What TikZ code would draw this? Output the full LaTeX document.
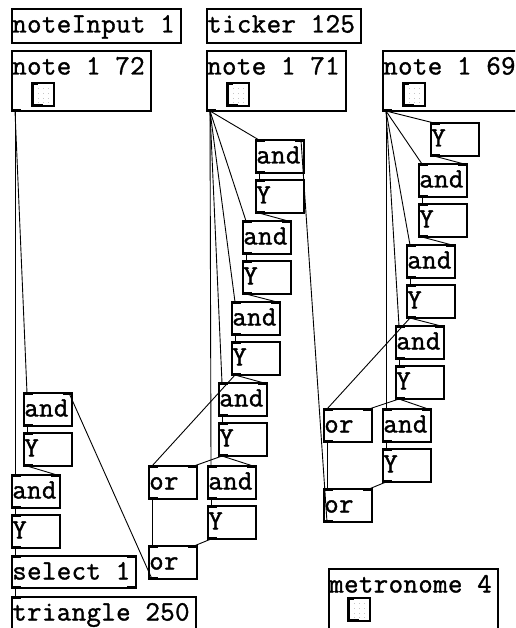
\documentclass[tikz,border=0pt]{standalone}
\usepackage{fontspec}
\newfontfamily\pdfont{Latin Modern Mono}[LetterSpace=1.5, FakeBold=1.3]
\tikzset{
  pdbox/.style={draw, line width=1.1pt, inner sep=0pt, outer sep=0pt},
  pdtxt/.style={font=\pdfont\fontsize{28}{29}\selectfont, inner sep=0pt, outer sep=0pt},
  port/.style={line width=2.6pt},
  wire/.style={line width=0.9pt},
}
% object box: name, x, y, width, height, text
\newcommand\pdobj[6]{%
  \node[pdbox, anchor=north west, minimum width=#4pt, minimum height=#5pt] (#1) at (#2,#3) {};
  \node[pdtxt, anchor=base west] (#1-t) at ([xshift=0.3pt,yshift=-23.5pt]#1.north west) {#6};
  \coordinate (#1-o) at ([xshift=3pt]#1.south west);
  \coordinate (#1-l) at ([xshift=3pt]#1.north west);
  \coordinate (#1-r) at ([xshift=-3pt]#1.north east);}
% inlet / outlet marks
\newcommand\pdinl[1]{\draw[port] ([yshift=-1pt]#1.north west) -- ++(9,0);}
\newcommand\pdinr[1]{\draw[port] ([yshift=-1pt]#1.north east) -- ++(-9,0);}
\newcommand\pdoutl[1]{\draw[port] ([yshift=1pt]#1.south west) -- ++(9,0);}
\newcommand\pdoutr[1]{\draw[port] ([yshift=1pt]#1.south east) -- ++(-9,0);}
% two-inlet, one-outlet object
\newcommand\pdgate[4]{\pdobj{#1}{#2}{#3}{48}{33}{#4}\pdinl{#1}\pdinr{#1}\pdoutl{#1}}
% delay cell
\newcommand\pdcell[3]{\pdobj{#1}{#2}{#3}{48}{33}{Y}\pdinl{#1}\pdoutl{#1}}
% toggle: name, x, y
\newcommand\pdtoggle[3]{%
  \node[pdbox, anchor=north west, minimum width=22pt, minimum height=23pt] (#1) at (#2,#3) {};
  \foreach \dx in {6,11,16} {\foreach \dy in {5,10,15,19} {
    \fill[gray!45] ([xshift=\dx pt,yshift=-\dy pt]#1.north west) rectangle ++(1,1);}}
  \draw[line width=2.4pt] ([xshift=1pt]#1.north west) -- ([xshift=1pt]#1.south west);
  \draw[line width=2.4pt] ([yshift=-1pt]#1.north west) -- ++(6,0);
  \draw[line width=2.4pt] ([yshift=1pt]#1.south west) -- ++(11,0);}

\begin{document}
\begin{tikzpicture}[x=1pt,y=-1pt]
\useasboundingbox (0,0) rectangle (515,628);
\clip (0,0) rectangle (515,628);
\fill[white] (0,0) rectangle (515,628);

% top row
\pdobj{input}{12}{9}{169}{34}{noteInput 1}
\pdobj{tick}{207}{9}{154}{34}{ticker 125}
\pdobj{nA}{12}{51}{139}{60}{note 1 72}\pdoutl{nA}\pdtoggle{nAt}{32}{83}
\pdobj{nB}{207}{51}{139}{60}{note 1 71}\pdoutl{nB}\pdtoggle{nBt}{227}{83}
\pdobj{nC}{383}{51}{150}{60}{note 1 69}\pdoutl{nC}\pdtoggle{nCt}{403}{83}

% left chain
\pdgate{aL1}{24}{393}{and}
\pdcell{yL1}{24}{433}
\pdgate{aL2}{12}{475}{and}
\pdcell{yL2}{12}{515}
\pdobj{sel}{12}{556}{124}{32}{select 1}\pdinl{sel}\pdinr{sel}\pdoutl{sel}\pdoutr{sel}
\pdobj{tri}{12}{597}{184}{45}{triangle 250}\pdinl{tri}

% middle chain
\pdgate{aM1}{256}{140}{and}
\pdcell{yM1}{256}{180}
\pdgate{aM2}{243}{221}{and}
\pdcell{yM2}{243}{261}
\pdgate{aM3}{232}{302}{and}
\pdcell{yM3}{232}{342}
\pdgate{aM4}{219}{383}{and}
\pdcell{yM4}{219}{423}
\pdgate{oM1}{149}{466}{or}
\pdgate{aM5}{208}{466}{and}
\pdcell{yM5}{208}{506}
\pdgate{oM2}{149}{546}{or}

% right chain
\pdcell{yR0}{431}{123}
\pdgate{aR1}{419}{164}{and}
\pdcell{yR1}{419}{204}
\pdgate{aR2}{407}{245}{and}
\pdcell{yR2}{407}{285}
\pdgate{aR3}{396}{326}{and}
\pdcell{yR3}{396}{366}
\pdgate{oR1}{324}{409}{or}
\pdgate{aR4}{383}{409}{and}
\pdcell{yR4}{383}{449}
\pdgate{oR2}{324}{489}{or}

\pdobj{metro}{329}{569}{169}{75}{metronome 4}\pdtoggle{metrot}{348}{598}

% wires: left
\draw[wire] (nA-o) -- (aL1-l);
\draw[wire] (nA-o) -- (aL2-l);
\draw[wire] (aL1-o) -- (yL1-l);
\draw[wire] (yL1-o) -- (aL2-r);
\draw[wire] (aL2-o) -- (yL2-l);
\draw[wire] (yL2-o) -- (sel-l);
\draw[wire] (sel-o) -- (tri-l);
\draw[wire] (oM2-o) -- (aL1-r);

% wires: middle
\foreach \t in {aM1,aM2,aM3,aM4,aM5} {\draw[wire] (nB-o) -- (\t-l);}
\draw[wire] (aM1-o) -- (yM1-l);
\draw[wire] (yM1-o) -- (aM2-r);
\draw[wire] (aM2-o) -- (yM2-l);
\draw[wire] (yM2-o) -- (aM3-r);
\draw[wire] (aM3-o) -- (yM3-l);
\draw[wire] (yM3-o) -- (aM4-r);
\draw[wire] (yM3-o) -- (oM1-l);
\draw[wire] (aM4-o) -- (yM4-l);
\draw[wire] (yM4-o) -- (aM5-r);
\draw[wire] (yM4-o) -- (oM1-r);
\draw[wire] (aM5-o) -- (yM5-l);
\draw[wire] (yM5-o) -- (oM2-r);
\draw[wire] (oM1-o) -- (oM2-l);
\draw[wire] (oR2-o) -- (aM1-r);

% wires: right
\foreach \t in {yR0,aR1,aR2,aR3,aR4} {\draw[wire] (nC-o) -- (\t-l);}
\draw[wire] (yR0-o) -- (aR1-r);
\draw[wire] (aR1-o) -- (yR1-l);
\draw[wire] (yR1-o) -- (aR2-r);
\draw[wire] (aR2-o) -- (yR2-l);
\draw[wire] (yR2-o) -- (aR3-r);
\draw[wire] (yR2-o) -- (oR1-l);
\draw[wire] (aR3-o) -- (yR3-l);
\draw[wire] (yR3-o) -- (aR4-r);
\draw[wire] (yR3-o) -- (oR1-r);
\draw[wire] (aR4-o) -- (yR4-l);
\draw[wire] (yR4-o) -- (oR2-r);
\draw[wire] (oR1-o) -- (oR2-l);
\end{tikzpicture}
\end{document}
